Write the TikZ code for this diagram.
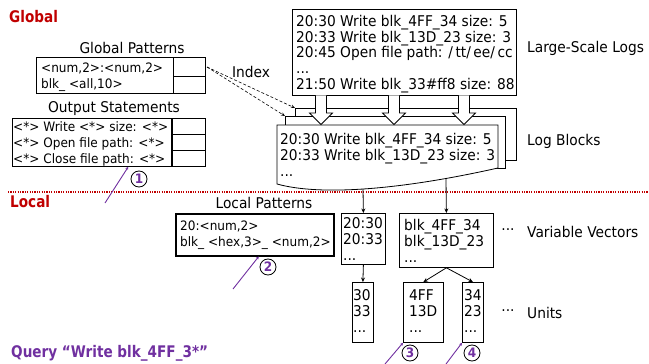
\documentclass[tikz,border=0pt]{standalone}
\usepackage{fontspec}
\setmainfont{DejaVu Sans}[FakeStretch=0.93]
\newfontfamily\headfont{DejaVu Sans}[FakeStretch=0.85]
\usetikzlibrary{arrows.meta,calc}
\definecolor{gred}{RGB}{192,0,0}
\definecolor{qpurple}{RGB}{112,48,160}
\begin{document}
\begin{tikzpicture}[x=1pt,y=-1pt,
  frame/.style={draw, line width=0.8pt, anchor=north west, inner sep=0pt},
  txt/.style={align=left, anchor=west, inner sep=0pt},
  big/.style={font=\fontsize{14.8}{15.8}\selectfont},
  small/.style={font=\fontsize{13}{16}\selectfont},
  page/.style={draw, fill=white, line width=0.8pt, anchor=north west, inner sep=0pt},
  arr/.style={-{Stealth[length=4.5pt,width=4pt]}, line width=0.8pt},
  idx/.style={-{Stealth[length=4pt,width=3.5pt,open]}, line width=0.6pt, dash pattern=on 3pt off 2pt},
  num/.style={circle, draw, line width=0.8pt, minimum size=16pt, inner sep=0pt, text=qpurple, font=\bfseries\fontsize{13}{13}\selectfont},
  pline/.style={qpurple, line width=0.9pt, -{Stealth[length=3pt,width=3pt]}},
  lbl/.style={font=\fontsize{14.8}{16}\selectfont, inner sep=0pt},
  head/.style={font=\headfont\bfseries\fontsize{16}{16}\selectfont, inner sep=0pt, anchor=west},
  blockarrow/.style={draw, fill=white, line width=0.8pt}
]
\useasboundingbox (0,0) rectangle (649,364);

% section labels
\node[head, text=gred] (global) at (9,17) {Global};
\node[head, text=gred] (local) at (10,202) {Local};
\node[head, text=qpurple] (query) at (11,353) {Query “Write blk\_4FF\_3*”};
\draw[gred, line width=1.2pt, dash pattern=on 1.2pt off 1.2pt] (8,192) -- (649,192);

% global patterns
\node[lbl] (gptitle) at (132,48) {Global Patterns};
\node[frame, minimum width=169pt, minimum height=36pt] (gp) at (36,57) {};
\node[txt, small] (gptxt) at (41,77) {<num,2>:<num,2>\\blk\_ <all,10>};
\draw[line width=0.8pt] (173,57) -- (173,93);
\draw[line width=0.8pt] (173,76) -- (205,76);

% output statements
\node[lbl] (ostitle) at (114,109) {Output Statements};
\node[frame, minimum width=193pt, minimum height=48pt] (os) at (12,118) {};
\node[txt, small] (ostxt) at (13,143.5) {<*> Write <*> size: <*>\\<*> Open file path: <*>\\<*> Close file path: <*>};
\draw[line width=1.1pt] (172,118) -- (172,166);
\draw[line width=0.8pt] (172,134) -- (205,134);
\draw[line width=0.8pt] (172,150) -- (205,150);

% large scale logs
\node[frame, minimum width=224pt, minimum height=86pt] (logs) at (292,9) {};
\node[txt, big] (logstxt) at (296,54)
  {20:30 Write blk\_4FF\_34 size: 5\\20:33 Write blk\_13D\_23 size: 3\\20:45 Open file path: /\,tt/\,ee/\,cc\\...\\21:50 Write blk\_33\#ff8 size: 88};
\node[lbl, anchor=west] (logslbl) at (527,48) {Large-Scale Logs};

% log blocks
\node[page, minimum width=221pt, minimum height=52pt] (p3) at (295,108) {};
\node[page, minimum width=220pt, minimum height=52pt] (p2) at (285,116) {};
\draw[fill=white, line width=0.8pt] (277,184) -- (277,125) -- (498,125) -- (498,168)
  .. controls (400,190) and (320,196) .. (277,184) -- cycle;
\node[txt, big] (fp) at (280,155)
  {20:30 Write blk\_4FF\_34 size: 5\\20:33 Write blk\_13D\_23 size: 3\\...};
\node[lbl, anchor=west] (blockslbl) at (527,141) {Log Blocks};

\foreach \cx in {321,394,464}{
  \draw[blockarrow] ({\cx-5.5},95.4) -- ({\cx-5.5},113) -- ({\cx-11.5},113) -- (\cx,124.5)
    -- ({\cx+11.5},113) -- ({\cx+5.5},113) -- ({\cx+5.5},95.4);
}

% index
\node[lbl] (index) at (251,72) {Index};
\coordinate (ix) at (207,67);
\draw[idx] (ix) -- (p3.north west);
\draw[idx] (ix) -- (p2.north west);

% local patterns
\node[lbl] (lptitle) at (264,203) {Local Patterns};
\node[frame, line width=1.5pt, minimum width=158pt, minimum height=42pt] (lp) at (175,213) {};
\node[txt, small] (lptxt) at (180,235) {20:<num,2>\\blk\_ <hex,3>\_ <num,2>};

% variable vectors
\node[frame, minimum width=44pt, minimum height=51pt] (v1) at (341,213) {};
\node[txt, big] (v1txt) at (343,239) {20:30\\20:33\\...};
\node[frame, minimum width=94pt, minimum height=54pt] (v2) at (399,213) {};
\node[txt, big] (v2txt) at (404,241) {blk\_4FF\_34\\blk\_13D\_23\\...};
\node[lbl] (vdots) at (508,230) {...};
\node[lbl, anchor=west] (vvlbl) at (527,232) {Variable Vectors};

\coordinate (fb1) at (363,189);
\coordinate (fb2) at (446,179);
\draw[arr] (fb1) -- (v1.north);
\draw[arr] (fb2) -- (v2.north);

% units
\node[frame, minimum width=21pt, minimum height=60pt] (u1) at (352,282) {};
\node[txt, big] (u1txt) at (353,311) {30\\33\\...};
\node[frame, minimum width=40pt, minimum height=60pt] (u2) at (403,282) {};
\node[txt, big] (u2txt) at (409,311) {4FF\\13D\\...};
\node[frame, minimum width=21pt, minimum height=60pt] (u3) at (462,282) {};
\node[txt, big] (u3txt) at (464,311) {34\\23\\...};
\node[lbl] (udots) at (508,311) {...};
\node[lbl, anchor=west] (unitslbl) at (527,313) {Units};

\draw[arr] (v1.south) -- (u1.north);
\draw[arr] (v2.south) -- (u2.north);
\draw[arr] (v2.south) -- (u3.north);

% numbered markers
\node[num] (c1) at (139,179) {1};
\node[num] (c2) at (268,267) {2};
\node[num] (c3) at (410,353) {3};
\node[num] (c4) at (472,353) {4};
\coordinate (s1) at (105,203);
\coordinate (s2) at (233,289);
\coordinate (s3) at (385,364);
\coordinate (s4) at (446,364);
\draw[pline] (s1) -- ($(os.south west)!0.6!(os.south east)$);
\draw[pline] (s2) -- ($(lp.south west)!0.525!(lp.south east)$);
\draw[pline] (s3) -- (u2.south west);
\draw[pline] (s4) -- (u3.south west);
\end{tikzpicture}
\end{document}
